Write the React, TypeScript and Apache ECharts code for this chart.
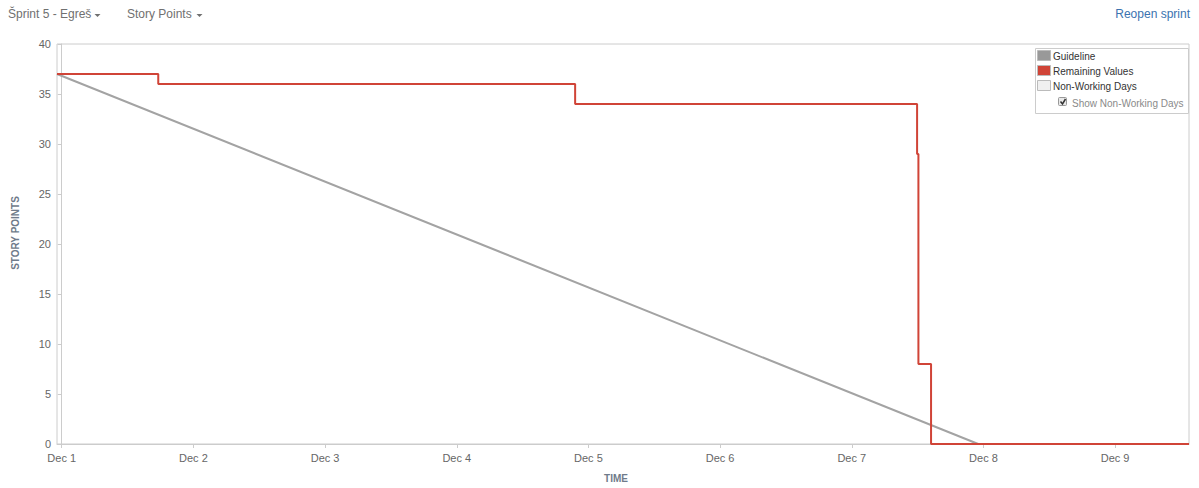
import React, { useEffect, useRef } from "react";
import * as echarts from "echarts";

// Days since Dec 1 00:00
const xMin = -0.036;
const xMax = 8.561;
const dayTicks = [0, 1, 2, 3, 4, 5, 6, 7, 8];
const dayLabels = ["Dec 1", "Dec 2", "Dec 3", "Dec 4", "Dec 5", "Dec 6", "Dec 7", "Dec 8", "Dec 9"];

const guidelineDays = [-0.036, 6.96];
const guidelineValues = [37, 0];

const remainingDays = [-0.036, 0.733, 3.899, 6.496, 6.506, 6.602, 8.561];
const remainingValues = [37, 36, 34, 29, 8, 0, 0];

const legendItems = ["Guideline", "Remaining Values", "Non-Working Days"];
const legendColors = ["#999999", "#d04437", "#f0f0f0"];

export default function App() {
  const ref = useRef<HTMLDivElement>(null);
  useEffect(() => {
    if (!ref.current) return;
    const chart = echarts.init(ref.current, undefined, { renderer: "svg" });
    const font = "'Liberation Sans', Arial, sans-serif";
    const legendX = 1035;
    const legendY = 48;
    const graphics: any[] = [
      { type: "text", x: 8, y: 14, style: { text: "Šprint 5 - Egreš", fill: "#707070", font: `12px ${font}`, verticalAlign: "middle" } },
      { type: "polygon", shape: { points: [[94.5, 14], [100.5, 14], [97.5, 17]] }, style: { fill: "#707070" } },
      { type: "text", x: 127, y: 14, style: { text: "Story Points", fill: "#707070", font: `12px ${font}`, verticalAlign: "middle" } },
      { type: "polygon", shape: { points: [[196.5, 14], [202.5, 14], [199.5, 17]] }, style: { fill: "#707070" } },
      { type: "text", x: 1190, y: 14, style: { text: "Reopen sprint", fill: "#3b73af", font: `12px ${font}`, align: "right", verticalAlign: "middle" } },
      {
        type: "text",
        x: 15,
        y: 233,
        rotation: Math.PI / 2,
        style: { text: "STORY POINTS", fill: "#6f7b8a", font: `bold 10px ${font}`, align: "center", verticalAlign: "middle" },
      },
      {
        type: "text",
        x: 616,
        y: 478,
        style: { text: "TIME", fill: "#6f7b8a", font: `bold 10px ${font}`, align: "center", verticalAlign: "middle" },
      },
      {
        type: "rect",
        shape: { x: legendX + 0.5, y: legendY + 0.5, width: 153, height: 65 },
        style: { fill: "#ffffff", stroke: "#cccccc", lineWidth: 1 },
        z: 10,
      },
    ];
    legendItems.forEach((name, i) => {
      const cy = legendY + 8 + i * 15;
      graphics.push({
        type: "rect",
        shape: { x: legendX + 2.5, y: cy - 5.5, width: 13, height: 10 },
        style: { fill: legendColors[i], stroke: "#bbbbbb", lineWidth: 1 },
        z: 11,
      });
      graphics.push({
        type: "text",
        x: legendX + 18,
        y: cy,
        style: { text: name, fill: "#333333", font: `10px ${font}`, verticalAlign: "middle" },
        z: 11,
      });
    });
    graphics.push({
      type: "rect",
      shape: { x: legendX + 23.5, y: legendY + 49.5, width: 8, height: 8, r: 1 },
      style: { fill: "#e8e8e8", stroke: "#999999", lineWidth: 1 },
      z: 11,
    });
    graphics.push({
      type: "polyline",
      shape: { points: [[legendX + 25.5, legendY + 53.5], [legendX + 27.5, legendY + 56], [legendX + 30.5, legendY + 51]] },
      style: { stroke: "#333333", lineWidth: 1.5, fill: null },
      z: 12,
    });
    graphics.push({
      type: "text",
      x: legendX + 37,
      y: legendY + 55,
      style: { text: "Show Non-Working Days", fill: "#8a8a8a", font: `10px ${font}`, verticalAlign: "middle" },
      z: 11,
    });

    chart.setOption({
      animation: false,
      textStyle: { fontFamily: font },
      grid: { left: 57, right: 10, top: 44, bottom: 44, show: true, borderColor: "#cccccc", borderWidth: 1 },
      xAxis: {
        type: "value",
        min: xMin,
        max: xMax,
        axisLine: { show: true, onZero: false, lineStyle: { color: "#cccccc" } },
        axisTick: { show: true, length: 4, customValues: dayTicks, lineStyle: { color: "#cccccc" } },
        axisLabel: {
          customValues: dayTicks,
          color: "#666666",
          fontSize: 11,
          margin: 8,
          formatter: (v: number) => dayLabels[Math.round(v)] ?? "",
        },
        splitLine: { show: false },
      },
      yAxis: {
        type: "value",
        min: 0,
        max: 40,
        interval: 5,
        axisLine: { show: true, lineStyle: { color: "#cccccc" } },
        axisTick: { show: true, length: 4, lineStyle: { color: "#cccccc" } },
        axisLabel: { color: "#666666", fontSize: 11, margin: 6 },
        splitLine: { show: false },
      },
      graphic: graphics,
      series: [
        {
          name: "Guideline",
          type: "line",
          data: guidelineDays.map((d, i) => [d, guidelineValues[i]]),
          symbol: "none",
          lineStyle: { color: "#a3a3a3", width: 2 },
          z: 2,
        },
        {
          name: "Remaining Values",
          type: "line",
          step: "end",
          data: remainingDays.map((d, i) => [d, remainingValues[i]]),
          symbol: "none",
          lineStyle: { color: "#d04437", width: 2 },
          z: 3,
        },
      ],
    });
    return () => chart.dispose();
  }, []);
  return (
    <div
      ref={ref}
      style={{ position: "fixed", left: 0, top: 0, width: 1199, height: 488, background: "#ffffff" }}
    />
  );
}
